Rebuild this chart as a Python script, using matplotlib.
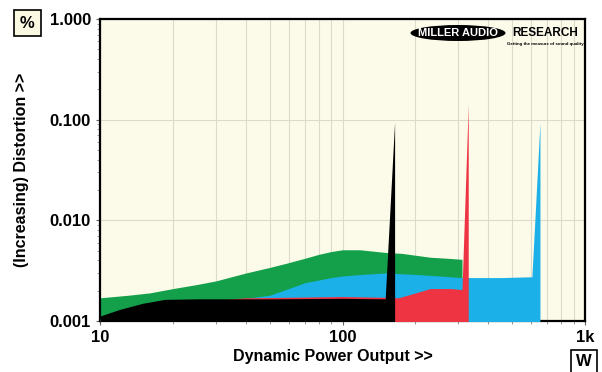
import matplotlib.pyplot as plt
from matplotlib.patches import Ellipse
from matplotlib import rcParams

rcParams.update({"font.family": ["Liberation Sans", "DejaVu Sans"], "font.weight": "bold"})

# power in W, distortion in %
green_w = [10, 13, 16, 20, 25, 30, 40, 50, 60, 70, 80, 90, 100, 118, 150, 175, 200, 230, 270, 311]
green_d = [0.0017, 0.0018, 0.0019, 0.0021, 0.0023, 0.0025, 0.0030, 0.0034, 0.0038, 0.0042, 0.0046, 0.0049, 0.0051, 0.0051, 0.0048, 0.0047, 0.0045, 0.0043, 0.0042, 0.0041]

blue_w = [10, 20, 30, 40, 50, 60, 70, 90, 100, 120, 150, 200, 250, 311, 330, 450, 604, 652, 652]
blue_d = [0.00105, 0.0014, 0.0016, 0.00168, 0.0018, 0.0021, 0.0024, 0.0027, 0.0028, 0.0029, 0.0030, 0.0029, 0.0028, 0.0027, 0.0027, 0.0027, 0.00275, 0.093, 0.0001]

red_w = [10, 20, 40, 60, 100, 150, 170, 200, 230, 280, 311, 330, 330]
red_d = [0.001, 0.0015, 0.0017, 0.00172, 0.00175, 0.00172, 0.0017, 0.0019, 0.0021, 0.0021, 0.00205, 0.143, 0.0001]

black_w = [10, 12, 15, 18.5, 25, 50, 100, 150, 164, 164]
black_d = [0.00112, 0.0013, 0.0015, 0.00164, 0.00166, 0.00166, 0.00168, 0.00166, 0.095, 0.0001]

y_ticks = [0.001, 0.01, 0.1, 1.0]
y_labels = ["0.001", "0.010", "0.100", "1.000"]
x_ticks = [10, 100, 1000]
x_labels = ["10", "100", "1k"]

fig = plt.figure(figsize=(6.02, 3.72), dpi=100)
ax = fig.add_axes([100 / 602, 1 - 321 / 372, 485 / 602, 302 / 372])
ax.set_facecolor("#fcfbe9")

ax.fill_between(green_w, green_d, 0.0001, color="#14a04b", lw=0, zorder=2)
ax.fill_between(blue_w, blue_d, 0.0001, color="#1bb0e8", lw=0, zorder=3)
ax.fill_between(red_w, red_d, 0.0001, color="#ee3342", lw=0, zorder=4)
ax.fill_between(black_w, black_d, 0.0001, color="black", lw=0, zorder=5)

ax.set_xscale("log")
ax.set_yscale("log")
ax.set_xlim(10, 1000)
ax.set_ylim(0.001, 1)

ax.grid(True, which="both", axis="x", color="#dcdacb", lw=0.8, zorder=1)
ax.grid(True, which="major", axis="y", color="#dcdacb", lw=0.8, zorder=1)
ax.set_axisbelow(True)

ax.set_yticks(y_ticks)
ax.set_yticklabels(y_labels, fontsize=12, fontweight="bold")
ax.set_xticks(x_ticks)
ax.set_xticklabels(x_labels, fontsize=12, fontweight="bold")
ax.tick_params(which="major", length=3, width=0.8, color="#666666")
ax.tick_params(which="minor", length=2, width=0.6, color="#888888")
ax.tick_params(axis="y", which="minor", labelleft=False)
ax.tick_params(axis="x", which="minor", labelbottom=False)
for s in ax.spines.values():
    s.set_linewidth(1.6)

fig.text(333 / 602, 1 - 357 / 372, "Dynamic Power Output >>", fontsize=11.5,
         fontweight="bold", ha="center", va="center")
fig.text(22 / 602, 1 - 170 / 372, "(Increasing) Distortion >>", fontsize=11.5,
         fontweight="bold", ha="center", va="center", rotation=90)

fig.text(27.5 / 602, 1 - 23 / 372, "%", fontsize=12, fontweight="bold", ha="center", va="center",
         bbox=dict(boxstyle="square,pad=0.35", fc="#fbf9e2", ec="black", lw=1.2))
fig.text(584 / 602, 1 - 362 / 372, "W", fontsize=12, fontweight="bold", ha="center", va="center",
         bbox=dict(boxstyle="square,pad=0.3", fc="white", ec="black", lw=1.2))

# logo
ell = Ellipse((458 / 602, 1 - 33 / 372), 95 / 602, 16 / 372, transform=fig.transFigure,
              fc="black", ec="none", zorder=10)
fig.patches.append(ell)
fig.text(458 / 602, 1 - 33 / 372, "MILLER AUDIO", color="white", fontsize=8,
         fontweight="heavy", ha="center", va="center", zorder=11)
fig.text(545 / 602, 1 - 33 / 372, "RESEARCH", color="black", fontsize=8.5,
         fontweight="heavy", ha="center", va="center", zorder=11)
fig.text(545 / 602, 1 - 44 / 372, "Getting the measure of sound quality", color="black",
         fontsize=3.2, ha="center", va="center", zorder=11)

fig.savefig("out.png", dpi=100)
